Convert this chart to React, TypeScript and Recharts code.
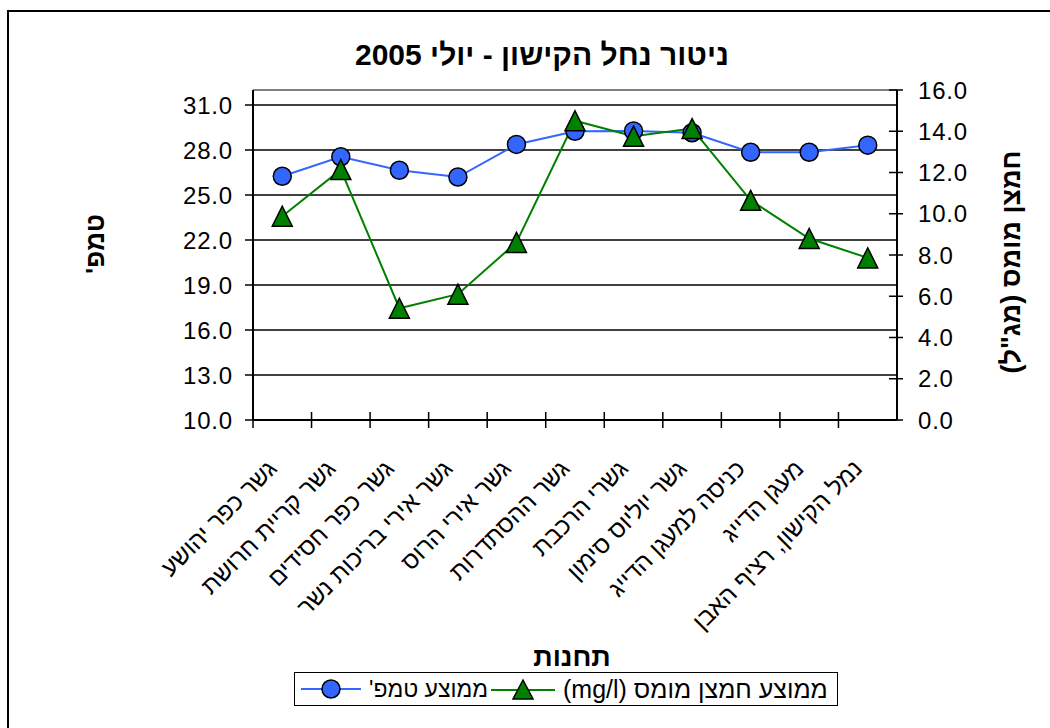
import React from 'react'
import {
  LineChart,
  Line,
  XAxis,
  YAxis,
  CartesianGrid,
  ReferenceLine,
  Label,
} from 'recharts'

const stations = [
  'גשר כפר יהושע',
  'גשר קריית חרושת',
  'גשר כפר חסידים',
  'גשר אירי בריכות נשר',
  'גשר אירי הרוס',
  'גשר ההסתדרות',
  'גשרי הרכבת',
  'גשר יוליוס סימון',
  'כניסה למעגן הדייג',
  'מעגן הדייג',
  'נמל הקישון, רציף האבן',
]

const avgTemp = [26.25, 27.55, 26.65, 26.2, 28.37, 29.25, 29.27, 29.15, 27.85, 27.85, 28.32]
const avgOxygen = [9.88, 12.14, 5.42, 6.1, 8.61, 14.51, 13.76, 14.13, 10.65, 8.8, 7.86]

const tempTicks = [10, 13, 16, 19, 22, 25, 28, 31]
const oxygenTicks = [0, 2, 4, 6, 8, 10, 12, 14, 16]

const title = 'ניטור נחל הקישון - יולי 2005'
const xTitle = 'תחנות'
const tempTitle = "טמפ'"
const oxygenTitle = 'חמצן מומס (מג"ל)'
const tempName = "ממוצע טמפ'"
const oxygenName = 'ממוצע חמצן מומס (mg/l)'

const data = stations.map((station, i) => ({
  station,
  temp: avgTemp[i],
  oxygen: avgOxygen[i],
}))

const FONT = '"Liberation Sans", Arial, sans-serif'
const BLUE = '#3366ff'
const GREEN = '#008000'
const PLOT_LEFT = 253
const PLOT_RIGHT = 897
const BAND = (PLOT_RIGHT - PLOT_LEFT) / stations.length

function stationTick({ x, y, payload }: { x: number; y: number; payload: { value: string } }) {
  const bx = x - BAND / 2
  const tx = x - 4
  const ty = y + 50
  return (
    <g>
      <line x1={bx} y1={y - 8} x2={bx} y2={y + 8} stroke="#000" strokeWidth={1.5} />
      <text
        x={tx}
        y={ty}
        transform={`rotate(-45, ${tx}, ${ty})`}
        textAnchor="end"
        fontSize={24}
        fontFamily={FONT}
        fill="#000"
      >
        {payload.value}
      </text>
    </g>
  )
}

function oxygenTick({ y, payload }: { y: number; payload: { value: number } }) {
  return (
    <g>
      <line x1={PLOT_RIGHT - 8} x2={PLOT_RIGHT + 6} y1={y} y2={y} stroke="#000" strokeWidth={1.5} />
      <text
        x={PLOT_RIGHT + 21}
        y={y}
        dy="0.36em"
        fontSize={24}
        letterSpacing={0.8}
        fontFamily={FONT}
        fill="#000"
      >
        {payload.value.toFixed(1)}
      </text>
    </g>
  )
}

function triangleDot({ cx, cy, index }: { cx: number; cy: number; index: number }) {
  const s = 10
  return (
    <polygon
      key={'tri' + index}
      points={`${cx},${cy - s} ${cx + s},${cy + s} ${cx - s},${cy + s}`}
      fill={GREEN}
      stroke="#000"
      strokeWidth={1.5}
    />
  )
}

const App = () => {
  return (
    <div
      style={{
        position: 'absolute',
        left: 0,
        top: 0,
        width: 1050,
        height: 728,
        overflow: 'hidden',
        background: '#fff',
        fontFamily: FONT,
      }}
    >
      <div
        style={{
          position: 'absolute',
          left: 7,
          top: 10,
          width: 1100,
          height: 800,
          border: '2px solid #000',
        }}
      />
      <div
        dir="rtl"
        style={{
          position: 'absolute',
          left: 292,
          top: 37,
          width: 500,
          textAlign: 'center',
          fontSize: 30,
          fontWeight: 'bold',
          lineHeight: '36px',
        }}
      >
        {title}
      </div>
      <div style={{ position: 'absolute', left: 0, top: 0 }}>
        <LineChart
          width={1050}
          height={728}
          data={data}
          margin={{ top: 90, right: 73, bottom: 0, left: 173 }}
        >
          <CartesianGrid
            yAxisId="temp"
            vertical={false}
            stroke="#000"
            strokeWidth={1.3}
          />
          <ReferenceLine yAxisId="temp" y={32} stroke="#808080" strokeWidth={2} />
          <XAxis
            dataKey="station"
            scale="band"
            height={308}
            interval={0}
            tickSize={0}
            tickMargin={0}
            tick={stationTick}
            tickLine={false}
            axisLine={{ stroke: '#000', strokeWidth: 2 }}
          />
          <YAxis
            yAxisId="temp"
            orientation="left"
            width={80}
            domain={[10, 32]}
            ticks={tempTicks}
            interval={0}
            tickSize={8}
            tickMargin={12}
            tickFormatter={(v: number) => v.toFixed(1)}
            tick={{ fill: '#000', fontSize: 24, letterSpacing: 0.8, fontFamily: FONT }}
            tickLine={{ stroke: '#000', strokeWidth: 1.5 }}
            axisLine={{ stroke: '#000', strokeWidth: 2 }}
          >
            <Label
              content={() => (
                <text
                  x={104}
                  y={244}
                  transform="rotate(-90, 104, 244)"
                  textAnchor="middle"
                  direction="rtl"
                  fontSize={26}
                  fontWeight="bold"
                  fontFamily={FONT}
                  fill="#000"
                >
                  {tempTitle}
                </text>
              )}
            />
          </YAxis>
          <YAxis
            yAxisId="oxygen"
            orientation="right"
            width={80}
            domain={[0, 16]}
            ticks={oxygenTicks}
            interval={0}
            tick={oxygenTick}
            tickLine={false}
            axisLine={{ stroke: '#000', strokeWidth: 2 }}
          >
            <Label
              content={() => (
                <text
                  x={1020}
                  y={262}
                  transform="rotate(-90, 1020, 262)"
                  textAnchor="middle"
                  direction="rtl"
                  fontSize={27}
                  fontWeight="bold"
                  fontFamily={FONT}
                  fill="#000"
                >
                  {oxygenTitle}
                </text>
              )}
            />
          </YAxis>
          <Line
            yAxisId="temp"
            dataKey="temp"
            name={tempName}
            stroke={BLUE}
            strokeWidth={2}
            dot={{ r: 9, fill: BLUE, stroke: '#000', strokeWidth: 1.5 }}
            activeDot={false}
            isAnimationActive={false}
          />
          <Line
            yAxisId="oxygen"
            dataKey="oxygen"
            name={oxygenName}
            stroke={GREEN}
            strokeWidth={2}
            dot={triangleDot}
            activeDot={false}
            isAnimationActive={false}
          />
        </LineChart>
      </div>
      <div
        dir="rtl"
        style={{
          position: 'absolute',
          left: 472,
          top: 641,
          width: 200,
          textAlign: 'center',
          fontSize: 27,
          fontWeight: 'bold',
          lineHeight: '32px',
        }}
      >
        {xTitle}
      </div>
      <div
        style={{
          position: 'absolute',
          left: 294,
          top: 672,
          width: 544,
          height: 34,
          border: '1.5px solid #000',
          boxSizing: 'border-box',
        }}
      >
        <svg style={{ position: 'absolute', left: 6, top: 4 }} width={60} height={24}>
          <line x1={0} x2={60} y1={12} y2={12} stroke={BLUE} strokeWidth={2} />
          <circle cx={30} cy={12} r={9} fill={BLUE} stroke="#000" strokeWidth={1.5} />
        </svg>
        <div
          dir="rtl"
          style={{ position: 'absolute', left: 74, top: 2, fontSize: 23, lineHeight: '28px', whiteSpace: 'nowrap' }}
        >
          {tempName}
        </div>
        <svg style={{ position: 'absolute', left: 196, top: 4 }} width={64} height={24}>
          <line x1={0} x2={64} y1={13} y2={13} stroke={GREEN} strokeWidth={2} />
          <polygon points="32,3 42,22 22,22" fill={GREEN} stroke="#000" strokeWidth={1.5} />
        </svg>
        <div
          dir="rtl"
          style={{ position: 'absolute', left: 268, top: 2, fontSize: 25, lineHeight: '28px', whiteSpace: 'nowrap' }}
        >
          {oxygenName}
        </div>
      </div>
    </div>
  )
}

export default App
